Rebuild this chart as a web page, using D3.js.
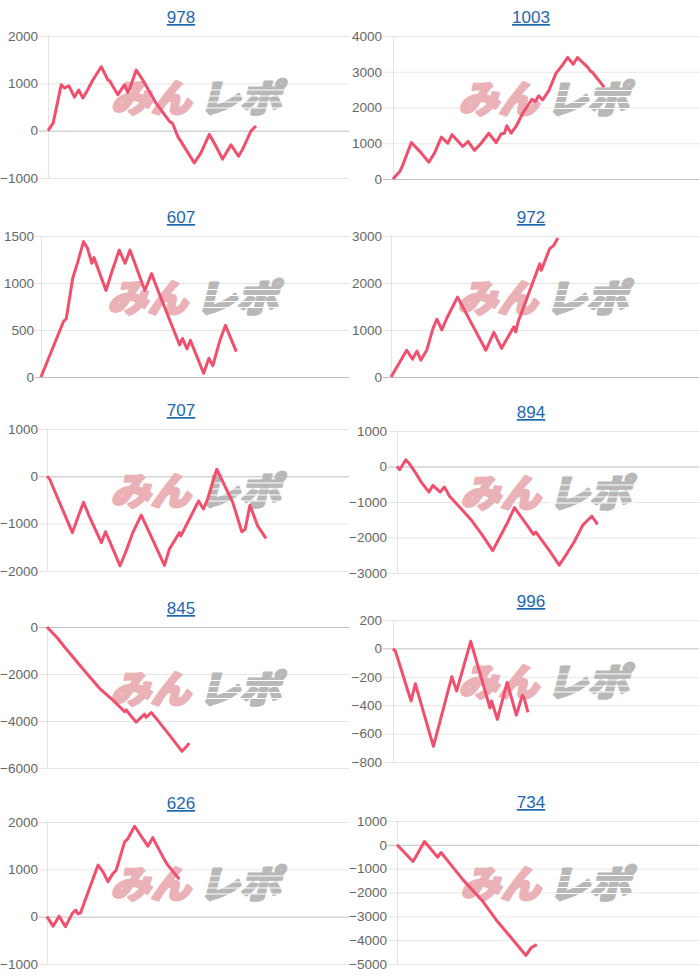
<!DOCTYPE html>
<html><head><meta charset="utf-8">
<script src="https://cdn.jsdelivr.net/npm/d3@7"></script>
<style>
body{margin:0;background:#fff;}
svg{display:block;}
</style></head><body>
<svg id="c" width="700" height="977"></svg>
<script>
// ---- data ----
const titles = ["978","1003","607","972","707","894","845","996","626","734"];
const xMax = 100; // progress along the x axis
const s978 = [[0,0],[1.7,160],[4.4,970],[5.5,900],[6.9,950],[8.8,710],[10.2,860],[11.6,690],[12.9,830],[14.9,1070],[17.7,1350],[19.9,1070],[20.4,1060],[23.2,760],[25.4,970],[26.5,810],[27.1,880],[29.3,1280],[31.5,1070],[35.9,580],[40.3,200],[41.4,150],[43.1,-120],[48.6,-680],[50.8,-470],[53.6,-80],[55.8,-330],[58.0,-600],[60.8,-300],[63.3,-540],[64.6,-400],[67.4,-10],[69.1,100]];
const s1003 = [[0,0],[2.2,210],[3.0,350],[6.0,1020],[9.2,730],[11.7,470],[13.6,730],[15.8,1170],[17.9,1000],[19.3,1240],[22.8,910],[24.5,1050],[26.6,800],[28.8,1000],[31.3,1280],[33.7,1020],[35.3,1260],[36.4,1280],[37.2,1490],[38.6,1280],[40.2,1470],[42.4,1840],[45.4,2230],[46.5,2170],[47.6,2330],[48.9,2210],[50.9,2470],[53.3,2960],[55.4,3190],[57.1,3400],[58.9,3210],[60.3,3400],[63.9,3100],[64.4,3030],[65.2,2980],[69.0,2570]];
const s607 = [[0,0],[7.3,590],[8.2,620],[10.3,1050],[11.9,1220],[13.8,1440],[15.1,1370],[16.5,1210],[17.2,1270],[21.1,920],[23.0,1120],[25.4,1350],[27.3,1210],[28.9,1350],[33.7,920],[35.9,1100],[37.5,960],[45.0,340],[45.9,410],[47.4,300],[48.5,390],[52.8,40],[54.5,200],[55.8,120],[58.0,380],[59.9,550],[61.4,430],[63.4,270]];
const s972 = [[0,0],[5.1,570],[7.0,380],[8.4,550],[9.7,360],[11.6,570],[13.6,1030],[14.9,1230],[16.5,1000],[18.1,1250],[21.6,1700],[30.8,570],[33.4,950],[35.9,610],[39.9,1070],[40.5,960],[41.3,1180],[42.9,1460],[48.3,2410],[48.8,2270],[51.5,2730],[52.1,2760],[52.8,2800],[54.2,2960]];
const s707 = [[0,0],[0.9,-60],[2.0,-230],[8.4,-1190],[10.6,-800],[12.1,-550],[13.9,-830],[18.0,-1400],[19.4,-1170],[24.2,-1890],[26.0,-1610],[28.4,-1190],[31.2,-820],[33.9,-1190],[38.9,-1880],[40.5,-1540],[43.8,-1190],[44.3,-1260],[50.2,-520],[51.8,-690],[53.2,-480],[56.2,150],[61.5,-550],[64.5,-1170],[65.6,-1120],[67.2,-610],[69.7,-1040],[72.5,-1310]];
const s894 = [[0,0],[0.9,-90],[2.9,190],[3.9,100],[6.4,-210],[8.0,-440],[10.6,-720],[11.9,-530],[14.3,-720],[15.7,-580],[17.4,-840],[20.7,-1140],[24.6,-1510],[27.9,-1890],[31.7,-2370],[35.0,-1840],[36.7,-1560],[38.9,-1160],[42.7,-1610],[45.2,-1910],[46.0,-1850],[50.4,-2360],[53.7,-2780],[55.9,-2500],[58.7,-2120],[61.5,-1650],[64.5,-1400],[66.4,-1630]];
const s845 = [[0,0],[3.6,-490],[5.8,-850],[10.8,-1620],[14.1,-2120],[17.4,-2610],[21.8,-3110],[25.7,-3600],[26.2,-3530],[29.5,-4050],[32.3,-3710],[32.8,-3850],[34.5,-3640],[36.1,-3880],[40.5,-4590],[44.7,-5290],[46.0,-5120],[47.1,-4940]];
const s996 = [[0,0],[0.8,-20],[5.9,-370],[7.3,-250],[13.2,-690],[19.2,-200],[20.8,-300],[25.4,50],[31.7,-420],[32.2,-370],[34.1,-500],[37.3,-240],[40.3,-470],[42.3,-330],[43.0,-360],[44.1,-450]];
const s626 = [[0,0],[2.0,-200],[4.0,10],[6.1,-210],[8.4,70],[9.5,140],[10.2,60],[11.1,80],[16.9,1090],[18.5,950],[20.2,740],[21.8,910],[22.9,980],[25.7,1580],[26.8,1650],[29.0,1910],[33.4,1490],[35.0,1670],[38.9,1200],[40.0,1090],[43.8,790]];
const s734 = [[0,0],[5.3,-700],[9.1,140],[13.5,-520],[14.6,-320],[21.8,-1460],[28.4,-2370],[32.8,-3140],[42.7,-4640],[44.4,-4320],[46.3,-4180]];
const series = [s978,s1003,s607,s972,s707,s894,s845,s996,s626,s734];
const yTicks = [
  [-1000,0,1000,2000],
  [0,1000,2000,3000,4000],
  [0,500,1000,1500],
  [0,1000,2000,3000],
  [-2000,-1000,0,1000],
  [-3000,-2000,-1000,0,1000],
  [-6000,-4000,-2000,0],
  [-800,-600,-400,-200,0,200],
  [-1000,0,1000,2000],
  [-5000,-4000,-3000,-2000,-1000,0,1000]
];

// ---- layout ----
const layout = [
  {x0:0,   left:48,  top:36,  bottom:178, pad:10},
  {x0:350, left:393, top:36,  bottom:179, pad:11},
  {x0:0,   left:41,  top:236, bottom:377, pad:7},
  {x0:350, left:391, top:236, bottom:377, pad:9},
  {x0:0,   left:47,  top:429, bottom:571, pad:9},
  {x0:350, left:397, top:431, bottom:573, pad:10},
  {x0:0,   left:47,  top:627, bottom:768, pad:9},
  {x0:350, left:393, top:620, bottom:762, pad:11},
  {x0:0,   left:47,  top:822, bottom:964, pad:9},
  {x0:350, left:397, top:821, bottom:964, pad:10}
];

const svg = d3.select("#c");
const font = "'Liberation Sans', Arial, Helvetica, sans-serif";
const wmFont = "'Noto Sans CJK JP', sans-serif";

titles.forEach((t, i) => {
  const L = layout[i];
  const right = L.x0 + 349;
  const ticks = yTicks[i];
  const x = d3.scaleLinear().domain([0, xMax]).range([L.left, right]);
  const y = d3.scaleLinear().domain(d3.extent(ticks)).range([L.bottom, L.top]);
  const g = svg.append("g");

  // title
  g.append("text")
    .attr("x", L.x0 + 181).attr("y", L.top - 13)
    .attr("text-anchor", "middle")
    .attr("font-family", font).attr("font-size", 17)
    .attr("fill", "#1f66b0")
    .attr("text-decoration", "underline")
    .text(t);

  // y axis with gridlines
  const axis = d3.axisLeft(y).tickValues(ticks).tickSize(-(right - L.left)).tickPadding(L.pad).tickFormat(d3.format("d"));
  const ag = g.append("g").attr("transform", `translate(${L.left},0)`).call(axis);
  ag.select(".domain").remove();
  ag.selectAll(".tick line")
    .attr("x1", -Math.min(10, L.pad - 1))
    .attr("stroke", d => d === 0 ? "rgba(0,0,0,0.25)" : "rgba(0,0,0,0.1)")
    .attr("stroke-width", 1);
  ag.selectAll(".tick text")
    .attr("font-family", font).attr("font-size", 13.5).attr("fill", "#666");
  // vertical axis line
  g.append("line")
    .attr("x1", L.left + 0.5).attr("x2", L.left + 0.5)
    .attr("y1", L.top).attr("y2", L.bottom)
    .attr("stroke", "rgba(0,0,0,0.1)");

  // watermark
  const cx = (L.left + right) / 2, cy = (L.top + L.bottom) / 2 - 9;
  const wm = g.append("g").attr("transform", `translate(${cx},${cy}) skewX(-14)`);
  wm.append("text")
    .attr("x", -84).attr("y", 14)
    .attr("textLength", 80).attr("lengthAdjust", "spacingAndGlyphs")
    .attr("font-family", wmFont).attr("font-weight", 900)
    .attr("font-size", 38).attr("fill", "#eab2b7")
    .attr("stroke", "#eab2b7").attr("stroke-width", 2.5).attr("stroke-linejoin", "round")
    .text("みん");
  wm.append("text")
    .attr("x", 4).attr("y", 14)
    .attr("textLength", 82).attr("lengthAdjust", "spacingAndGlyphs")
    .attr("font-family", wmFont).attr("font-weight", 900)
    .attr("font-size", 38).attr("fill", "#b8b8b8")
    .attr("stroke", "#b8b8b8").attr("stroke-width", 2.5).attr("stroke-linejoin", "round")
    .text("レポ");
  [-8, -2, 4, 10].forEach(dy => {
    wm.append("line").attr("x1", 2).attr("x2", 92).attr("y1", dy).attr("y2", dy)
      .attr("stroke", "#fff").attr("stroke-width", 1.2);
  });

  // data line
  const line = d3.line().x(d => x(d[0])).y(d => y(d[1]));
  g.append("path")
    .datum(series[i])
    .attr("d", line)
    .attr("fill", "none")
    .attr("stroke", "#f0506e")
    .attr("stroke-width", 3)
    .attr("stroke-linejoin", "round");
});
</script>
</body></html>
